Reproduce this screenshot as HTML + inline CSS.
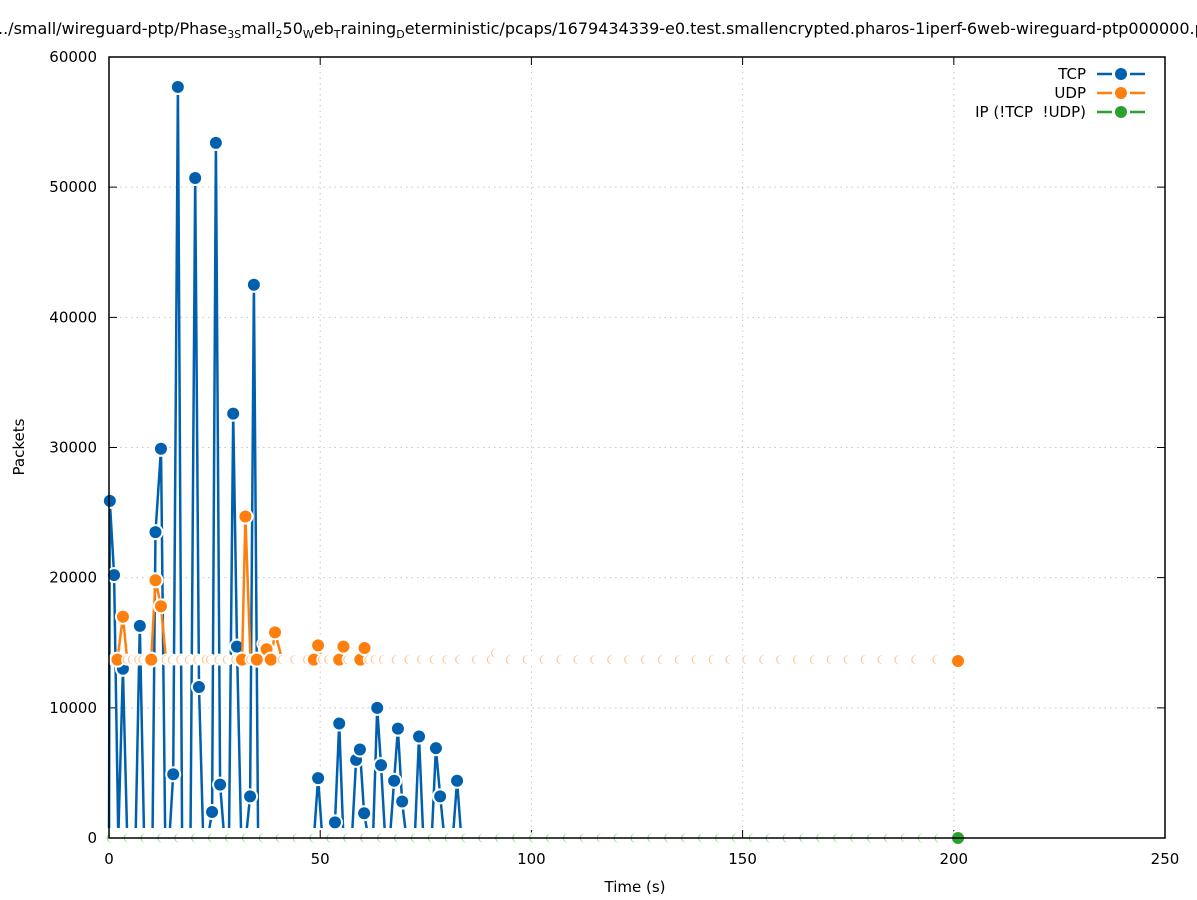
<!DOCTYPE html>
<html><head><meta charset="utf-8">
<style>
html,body{margin:0;padding:0;background:#fff;}
svg{display:block;font-family:"DejaVu Sans","Liberation Sans",sans-serif;}
</style></head>
<body>
<svg id="chart" width="1197" height="900" viewBox="0 0 1197 900">
<defs><clipPath id="clipTop"><rect x="100" y="40" width="1080" height="788"/></clipPath></defs>
<text x="-2" y="34" font-size="16" fill="#000">../small/wireguard-ptp/Phase<tspan font-size="11" dy="4">3S</tspan><tspan dy="-4">mall</tspan><tspan font-size="11" dy="4">2</tspan><tspan dy="-4">50</tspan><tspan font-size="11" dy="4">W</tspan><tspan dy="-4">eb</tspan><tspan font-size="11" dy="4">T</tspan><tspan dy="-4">raining</tspan><tspan font-size="11" dy="4">D</tspan><tspan dy="-4">eterministic/pcaps/1679434339-e0.test.smallencrypted.pharos-1iperf-6web-wireguard-ptp000000.pcap</tspan></text>
<g id="grid"></g>
<g id="axes"></g>
<g id="series"></g>
<rect x="109" y="57" width="1056" height="781" fill="none" stroke="#000" stroke-width="1.5"/>
<text x="635" y="892" font-size="15" text-anchor="middle">Time (s)</text>
<text transform="translate(24,447) rotate(-90)" font-size="15" text-anchor="middle">Packets</text>
<g id="legend"></g>
</svg>
<script>
const xTicks = [0, 50, 100, 150, 200, 250];
const yTicks = [0, 10000, 20000, 30000, 40000, 50000, 60000];
const seriesNames = ["TCP", "UDP", "IP (!TCP\u00a0\u00a0!UDP)"];
const seriesColors = ["#0060ad", "#ff7f0e", "#2ca02c"];
const tcpTimes = [0,0.2,1.2,2.2,3.3,4.3,6.3,7.3,8.3,10.3,11,12.3,13.3,14.3,15.2,16.3,17.3,19.3,20.4,21.3,22.3,23.4,24.4,25.3,26.3,27.3,28.4,29.4,30.3,31.3,32.4,33.4,34.3,35.3,48.5,49.5,50.5,52.5,53.5,54.5,55.5,57.5,58.5,59.4,60.4,61.4,62.5,63.5,64.4,65.4,66.5,67.5,68.4,69.4,70.4,72.4,73.4,74.4,76.4,77.4,78.4,79.4,81.4,82.4,83.4];
const tcpValues = [0,25900,20200,0,13000,0,0,16300,0,0,23500,29900,0,0,4900,57700,0,0,50700,11600,0,0,2000,53400,4100,0,0,32600,14700,0,0,3200,42500,0,0,4600,0,0,1200,8800,0,0,6000,6800,1900,0,0,10000,5600,0,0,4400,8400,2800,0,0,7800,0,0,6900,3200,0,0,4400,0];
const udpTimes = [1,2,3.3,4.3,5.5,7,8,10,11,12.3,13.5,15,17,19,21,23,24,26,28,30,31.5,32.3,33.5,35,36.3,37.3,38.3,39.3,41,44,47,48.5,49.5,50.5,52,54.5,55.5,56.5,59.5,60.5,61.5,63,65,68,71,74,77,80,83,87,90.5,91.5,95,99,103,107,111,115,119,123,127,131,135,139,143,147,151,155,159,163,167,171,175,179,183,187,191,196,201];
const udpValues = [13700,13700,17000,13700,13700,13700,13700,13700,19800,17800,13700,13700,13700,13700,13700,13700,13700,13700,13700,13700,13700,24700,13700,13700,14900,14500,13700,15800,13700,13700,13700,13700,14800,13700,13700,13700,14700,13700,13700,14600,13700,13700,13700,13700,13700,13700,13700,13700,13700,13700,13700,14200,13700,13700,13700,13700,13700,13700,13700,13700,13700,13700,13700,13700,13700,13700,13700,13700,13700,13700,13700,13700,13700,13700,13700,13700,13700,13700,13600];
const ipTimes = [0.5,4.5,8.5,12.5,16.5,20.5,24.5,28.5,32.5,36.5,40.5,44.5,48.5,52.5,56.5,60.5,64.5,68.5,72.5,76.5,80.5,84.5,88.5,92.5,96.5,100.5,104.5,108.5,112.5,116.5,120.5,124.5,128.5,132.5,136.5,140.5,144.5,148.5,152.5,156.5,160.5,164.5,168.5,172.5,176.5,180.5,184.5,188.5,192.5,196.5,201];
const ipValues = [0,0,0,0,0,0,0,0,0,0,0,0,0,0,0,0,0,0,0,0,0,0,0,0,0,0,0,0,0,0,0,0,0,0,0,0,0,0,0,0,0,0,0,0,0,0,0,0,0,0,0];

const NS = "http://www.w3.org/2000/svg";
const X0=109, X1=1165, Y0=838, Y1=57;
function xs(v){return X0 + (v - 0) / 250 * (X1 - X0);}
function ys(v){return Y0 - v / 60000 * (Y0 - Y1);}
function mk(tag, attrs, parent){const e=document.createElementNS(NS,tag);for(const k in attrs)e.setAttribute(k,attrs[k]);parent.appendChild(e);return e;}

const grid=document.getElementById('grid'), axes=document.getElementById('axes');
xTicks.forEach(t=>{
  const x=xs(t);
  if(t>0&&t<250){const g=mk('line',{x1:x,x2:x,y1:Y0,y2:Y1,stroke:'#c8c8c8','stroke-dasharray':'1.5,4'},grid);
    
    }
  const tk=mk('path',{d:`M${x},${Y0}v-8M${x},${Y1}v8`,stroke:'#000','stroke-width':1},axes);
  
  
  const lb=mk('text',{x:x,y:864,'font-size':15,'text-anchor':'middle'},axes);lb.textContent=t;
  
  
});
yTicks.forEach(t=>{
  const y=ys(t);
  if(t>0&&t<60000){const g=mk('line',{x1:X0,x2:X1,y1:y,y2:y,stroke:'#c8c8c8','stroke-dasharray':'1.5,4'},grid);
    
    }
  const tk=mk('path',{d:`M${X0},${y}h8M${X1},${y}h-8`,stroke:'#000','stroke-width':1},axes);
  
  
  const lb=mk('text',{x:97,y:y+5,'font-size':15,'text-anchor':'end'},axes);lb.textContent=t;
  
  
});

const series=document.getElementById('series');
function drawSeries(times, vals, color, name, clip, hideZero){
  const g=mk('g',{},series);
  
  
  let d='';
  for(let i=0;i+1<times.length;i++){
    const flat=Math.abs(vals[i+1]-vals[i])<600 && !clip;
    if(flat) continue;
    d+=`M${xs(times[i]).toFixed(1)},${ys(vals[i]).toFixed(1)}L${xs(times[i+1]).toFixed(1)},${ys(vals[i+1]).toFixed(1)}`;
  }
  const ln=mk('path',{d:d,fill:'none',stroke:color,'stroke-width':2.5,'stroke-linejoin':'miter'},g);
  if(clip) ln.setAttribute('clip-path','url(#clipTop)');
  
  
  times.forEach((t,i)=>{
    if(hideZero && vals[i]===0) return;
    const cx=xs(t), cy=ys(vals[i]);
    const next=i+1<times.length;
    const crescent = next && (times[i+1]-t)<=6 && Math.abs(vals[i+1]-vals[i])<600;
    const w=mk('circle',{cx:cx,cy:cy,r:crescent?6:8,fill:'#fff'},g);
    
    
    const c=mk('circle',{cx:cx,cy:cy,r:crescent?4.5:6,fill:color,opacity:crescent?0.45:1},g);
    
    
    if(crescent){const cv=mk('circle',{cx:cx+1.3,cy:cy,r:4.6,fill:'#fff'},g);
      
      }
  });
}
drawSeries(tcpTimes, tcpValues, seriesColors[0], 'tcp', true, true);
drawSeries(udpTimes, udpValues, seriesColors[1], 'udp', false, false);
drawSeries(ipTimes, ipValues, seriesColors[2], 'ip', false, false);

const legend=document.getElementById('legend');
seriesNames.forEach((n,i)=>{
  const y=74+i*19;
  const g=mk('g',{},legend);
  
  
  const t=mk('text',{x:1086,y:y+5,'font-size':15,'text-anchor':'end'},g);t.textContent=n;
  const l=mk('path',{d:`M1097,${y}h15M1130,${y}h15`,stroke:seriesColors[i],'stroke-width':2.5},g);
  
  
  const c=mk('circle',{cx:1121,cy:y,r:6,fill:seriesColors[i]},g);
  
  
});
</script>
</body></html>
